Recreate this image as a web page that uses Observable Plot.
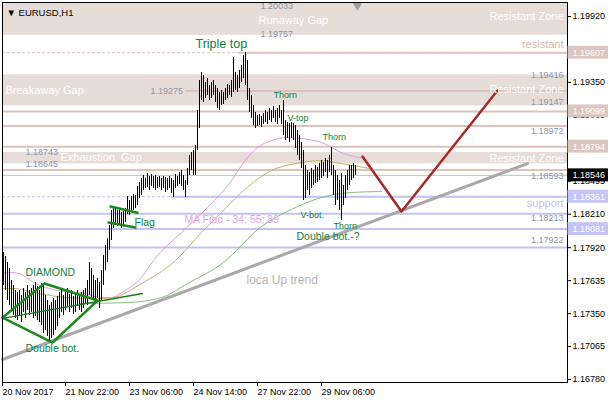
<!DOCTYPE html>
<html><head><meta charset="utf-8">
<script src="https://cdn.jsdelivr.net/npm/d3@7"></script>
<script src="https://cdn.jsdelivr.net/npm/@observablehq/plot@0.6"></script>
<style>body{margin:0;background:#fff;} #chart svg{display:block;overflow:visible}</style>
</head><body><div id="chart"></div>
<script>
// ---- OHLC bars (H1), high / low per bar ----
const barHigh = [1.17879,1.17844,1.17792,1.17740,1.17636,1.17593,1.17550,1.17533,1.17550,1.17507,
1.17567,1.17533,1.17593,1.17550,1.17567,1.17593,1.17619,1.17585,1.17550,1.17610,
1.17602,1.17507,1.17463,1.17420,1.17446,1.17481,1.17463,1.17498,1.17533,1.17550,
1.17507,1.17533,1.17567,1.17515,1.17550,1.17498,1.17524,1.17550,1.17507,1.17533,
1.17550,1.17567,1.17636,1.17792,1.17740,1.17680,1.17636,1.17654,1.17619,1.17723,
1.17853,1.17939,1.17998,1.18112,1.18242,1.18268,1.18259,1.18242,1.18242,1.18225,
1.18233,1.18259,1.18363,1.18328,1.18363,1.18381,1.18372,1.18450,1.18484,1.18519,
1.18545,1.18519,1.18562,1.18536,1.18553,1.18536,1.18545,1.18527,1.18536,1.18519,
1.18536,1.18527,1.18519,1.18536,1.18519,1.18501,1.18553,1.18536,1.18571,1.18588,
1.18545,1.18501,1.18605,1.18718,1.18744,1.18761,1.18804,1.19107,1.19366,1.19436,
1.19410,1.19349,1.19384,1.19323,1.19349,1.19366,1.19323,1.19297,1.19263,1.19280,
1.19263,1.19297,1.19332,1.19323,1.19366,1.19565,1.19436,1.19410,1.19453,1.19496,
1.19583,1.19609,1.19539,1.19297,1.19237,1.19150,1.19090,1.19064,1.19072,1.19055,
1.19081,1.19107,1.19090,1.19124,1.19107,1.19142,1.19107,1.19124,1.19150,1.19107,
1.19193,1.19020,1.19003,1.18995,1.19003,1.18995,1.18977,1.18934,1.18891,1.18830,
1.18761,1.18631,1.18588,1.18571,1.18605,1.18588,1.18631,1.18614,1.18648,1.18674,
1.18657,1.18692,1.18674,1.18718,1.18787,1.18631,1.18588,1.18545,1.18501,1.18562,
1.18458,1.18545,1.18588,1.18631,1.18631,1.18648,1.18631];
const barLow = [1.17593,1.17550,1.17463,1.17420,1.17360,1.17334,1.17308,1.17290,1.17325,1.17273,
1.17360,1.17308,1.17377,1.17334,1.17360,1.17308,1.17325,1.17290,1.17273,1.17247,
1.17178,1.17204,1.17152,1.17117,1.17135,1.17161,1.17204,1.17238,1.17308,1.17360,
1.17334,1.17377,1.17412,1.17360,1.17394,1.17342,1.17360,1.17412,1.17377,1.17360,
1.17394,1.17429,1.17420,1.17507,1.17481,1.17463,1.17446,1.17481,1.17394,1.17463,
1.17593,1.17723,1.17792,1.17896,1.17982,1.18086,1.18112,1.18103,1.18112,1.18086,
1.18103,1.18138,1.18207,1.18199,1.18225,1.18242,1.18259,1.18285,1.18346,1.18372,
1.18415,1.18432,1.18441,1.18415,1.18450,1.18432,1.18415,1.18432,1.18441,1.18415,
1.18432,1.18398,1.18415,1.18432,1.18389,1.18354,1.18432,1.18450,1.18467,1.18450,
1.18415,1.18354,1.18458,1.18545,1.18588,1.18545,1.18545,1.18761,1.18951,1.19193,
1.19176,1.19211,1.19237,1.19193,1.19211,1.19237,1.19176,1.19124,1.19107,1.19150,
1.19159,1.19193,1.19211,1.19237,1.19219,1.19263,1.19280,1.19263,1.19297,1.19349,
1.19384,1.19323,1.19193,1.19090,1.19038,1.18977,1.18951,1.18969,1.18977,1.18960,
1.18986,1.19003,1.18986,1.19020,1.19003,1.19038,1.19003,1.18986,1.19038,1.18986,
1.18891,1.18847,1.18865,1.18830,1.18865,1.18847,1.18778,1.18718,1.18674,1.18605,
1.18328,1.18346,1.18415,1.18372,1.18432,1.18458,1.18475,1.18484,1.18501,1.18519,
1.18536,1.18571,1.18519,1.18571,1.18545,1.18372,1.18285,1.18328,1.18242,1.18155,
1.18285,1.18346,1.18415,1.18458,1.18501,1.18519,1.18545];

// ---- Moving averages "MA Fibo - 34; 55; 89" (bar index, price) ----
const maPlumBar = [0,4,9,15,27,40,49,54,59,69,75,89,102,114,119,127,134,141,149,159,170,180];
const maPlumVal = [1.17697,1.17706,1.17688,1.17619,1.17550,1.17524,1.17489,1.17489,1.17533,1.17662,1.17809,1.18052,1.18268,1.18501,1.18631,1.18787,1.18847,1.18873,1.18865,1.18830,1.18735,1.18692];
const maOliveBar = [0,5,15,32,49,55,69,86,99,109,119,132,149,159,169,183];
const maOliveVal = [1.17567,1.17567,1.17533,1.17489,1.17481,1.17489,1.17610,1.17809,1.18052,1.18225,1.18398,1.18571,1.18657,1.18674,1.18648,1.18605];
const maGreenBar = [38,62,79,92,110,129,144,159,174,189];
const maGreenVal = [1.17437,1.17446,1.17489,1.17610,1.17792,1.18104,1.18251,1.18354,1.18398,1.18406];

// ---- horizontal levels ----
const zoneHigh = [1.20033, 1.19416, 1.18743];
const zoneLow  = [1.19757, 1.19147, 1.18645];
const zoneNames = ["Runaway Gap", "Breakaway Gap", "Exhaustion  Gap"];
const pinkLevels = [1.19607, 1.19275, 1.19099, 1.18972, 1.18794, 1.18593];
const pinkLevelFrom = [118, 91, -0.5, -0.5, -0.5, -0.5];
const blueLevels = [1.18361, 1.18213, 1.18081, 1.17922];
const blueLevelFrom = [84, -0.5, -0.5, -0.5];
const dashedPink = [1.19607];
const dashedBlue = [1.18361];
const bidPrice = 1.18546;

// ---- drawn objects ----
const trendBar = [-0.5, 262], trendVal = [1.16953, 1.18648];
const projBar = [179.5, 199, 247], projVal = [1.18709, 1.18233, 1.19280];
const diamondBar = [-0.5, 20.5, 47, 24.5, -0.5];
const diamondVal = [1.17316, 1.17610, 1.17463, 1.17100, 1.17316];
const diamondMidBar = [-0.5, 69.5], diamondMidVal = [1.17308, 1.17524];
const flagTopBar = [53.5, 67], flagTopVal = [1.18277, 1.18223];
const flagLowBar = [52.5, 66], flagLowVal = [1.18138, 1.18095];

// ---- axes ----
const yTicks = [1.19920,1.19635,1.19350,1.19065,1.18780,1.18495,1.18210,1.17920,1.17635,1.17350,1.17065,1.16780];
const xTickBars = [-0.5, 31, 63, 95, 127, 159];
const xTickLabels = ["20 Nov 2017","21 Nov 22:00","23 Nov 06:00","24 Nov 14:00","27 Nov 22:00","29 Nov 06:00"];
const pinkBoxes = [1.19607, 1.19099, 1.18794];
const blueBoxes = [1.18361, 1.18081];

// ---- annotations ----
const patternText = ["Triple top","Thorn","V-top","Thorn","V-bot.","Thorn","Double bot.-?","DIAMOND","Double bot.","Flag"];
const patternBar  = [96, 135, 142, 159.5, 148.5, 165, 146.5, 11, 11, 65.5];
const patternAt   = [1.19678, 1.19237, 1.19038, 1.18873, 1.18199, 1.18103, 1.18017, 1.17706, 1.17048, 1.18138];
const leftPriceText = ["1.20033","1.19757","1.19275","1.18743","1.18645"];
const leftPriceBar  = [128.5, 128.5, 73.5, 11, 11];
const leftPriceAt   = [1.20007, 1.19764, 1.19271, 1.18751, 1.18640];
const rightPriceText = ["1.19416","1.19147","1.18972","1.18593","1.18213","1.17922"];
const rightPriceAt   = [1.19410, 1.19176, 1.18925, 1.18536, 1.18173, 1.17990];
const zoneNameBar = [127.5, 1, 28.5];
const zoneNameAt  = [1.19885, 1.19280, 1.18699];
const resistZoneAt = [1.19920, 1.19289, 1.18692];

// ---- layout ----
const xLo = -0.5, xHi = 282;
const yLo = 1.167541, yHi = 1.200411;
const FONT = "'Liberation Sans', Arial, sans-serif";
const ZONE = "#e6dcd8", PINK = "#dcc2ba", LAV = "#c2c2f4", GREEN = "#0f7f3c";

const bars = barHigh.map((h, i) => ({i, h, l: barLow[i]}));
const pts = (b, v) => b.map((x, k) => ({x, y: v[k]}));
const zones = zoneHigh.map((h, k) => ({h, l: zoneLow[k]}));
const bh = 0.00056;

const chart = Plot.plot({
  width: 610, height: 400,
  marginLeft: 2, marginRight: 43, marginTop: 2, marginBottom: 18,
  x: {domain: [xLo, xHi], axis: null},
  y: {domain: [yLo, yHi], axis: null},
  style: {fontFamily: FONT, fontSize: "9px", background: "#fff", overflow: "visible"},
  marks: [
    Plot.rect(zones, {x1: xLo, x2: xHi, y1: "l", y2: "h", fill: ZONE}),
    Plot.ruleY(dashedPink, {x1: xLo, x2: xHi, stroke: PINK, strokeWidth: 1, strokeDasharray: "3,2"}),
    Plot.ruleY(dashedBlue, {x1: xLo, x2: xHi, stroke: LAV, strokeWidth: 1, strokeDasharray: "3,2"}),
    Plot.ruleY(pinkLevels, {y: d => d, x1: (d, i) => pinkLevelFrom[i], x2: xHi, stroke: PINK, strokeWidth: 2}),
    Plot.ruleY(blueLevels, {y: d => d, x1: (d, i) => blueLevelFrom[i], x2: xHi, stroke: LAV, strokeWidth: 2}),
    Plot.ruleY([bidPrice], {x1: xLo, x2: xHi, stroke: "#c0c0c0", strokeWidth: 1}),
    Plot.line(pts(maPlumBar, maPlumVal), {x: "x", y: "y", stroke: "#dda0dd", strokeWidth: 1, curve: "monotone-x"}),
    Plot.line(pts(maOliveBar, maOliveVal), {x: "x", y: "y", stroke: "#c4b266", strokeWidth: 1, curve: "monotone-x"}),
    Plot.line(pts(maGreenBar, maGreenVal), {x: "x", y: "y", stroke: "#86c078", strokeWidth: 1, curve: "monotone-x"}),
    Plot.ruleX(bars, {x: "i", y1: "l", y2: "h", stroke: "#000", strokeWidth: 1}),
    Plot.line(pts(trendBar, trendVal), {x: "x", y: "y", stroke: "#a9a9a9", strokeWidth: 3}),
    Plot.line(pts(diamondBar, diamondVal), {x: "x", y: "y", stroke: "#1b8a1b", strokeWidth: 2.5}),
    Plot.line(pts(diamondMidBar, diamondMidVal), {x: "x", y: "y", stroke: "#1b7a1b", strokeWidth: 1.3}),
    Plot.line(pts(flagTopBar, flagTopVal), {x: "x", y: "y", stroke: "#1b8a1b", strokeWidth: 2.5}),
    Plot.line(pts(flagLowBar, flagLowVal), {x: "x", y: "y", stroke: "#1b8a1b", strokeWidth: 2.5}),
    Plot.line(pts(projBar, projVal), {x: "x", y: "y", stroke: "#a52a2a", strokeWidth: 2.5}),
    // zone texts
    Plot.text(zoneNames, {x: (d, i) => zoneNameBar[i], y: (d, i) => zoneNameAt[i], text: d => d, textAnchor: "start", fill: "#fff", fontSize: 11}),
    Plot.text(resistZoneAt, {x: xHi, y: d => d, text: () => "Resistant Zone", textAnchor: "end", dx: -4, fill: "#fff", fontSize: 11}),
    Plot.text(["resistant"], {x: xHi, y: 1.19678, textAnchor: "end", dx: -4, fill: "#d9b8ae", fontSize: 11}),
    Plot.text(["support"], {x: xHi, y: 1.18302, textAnchor: "end", dx: -4, fill: "#c2c2f4", fontSize: 11}),
    Plot.text(leftPriceText, {x: (d, i) => leftPriceBar[i], y: (d, i) => leftPriceAt[i], text: d => d, textAnchor: "start", fill: "#8c97a8", fontSize: 9}),
    Plot.text(rightPriceText, {x: xHi, y: (d, i) => rightPriceAt[i], text: d => d, textAnchor: "end", dx: -4, fill: "#8c97a8", fontSize: 9}),
    Plot.text(patternText.slice(0, 1), {x: patternBar[0], y: patternAt[0], text: d => d, textAnchor: "start", fill: GREEN, fontSize: 12.5}),
    Plot.text(patternText.slice(1, 6), {x: (d, i) => patternBar[i + 1], y: (d, i) => patternAt[i + 1], text: d => d, textAnchor: "start", fill: GREEN, fontSize: 9}),
    Plot.text(patternText.slice(6), {x: (d, i) => patternBar[i + 6], y: (d, i) => patternAt[i + 6], text: d => d, textAnchor: "start", fill: GREEN, fontSize: 10.5}),
    Plot.text(["MA Fibo - 34; 55; 89"], {x: 90.5, y: 1.18164, textAnchor: "start", fill: "#e3a6e3", fontSize: 10.5}),
    Plot.text(["loca Up trend"], {x: 121.5, y: 1.17636, textAnchor: "start", fill: "#b4b4b4", fontSize: 12}),
    Plot.text(["\u25BC EURUSD,H1"], {frameAnchor: "top-left", dx: 4, dy: 7, textAnchor: "start", fill: "#000", fontSize: 9.5}),
    Plot.dot([barHigh.length], {x: d => d, frameAnchor: "top", symbol: "triangle", r: 3.5, rotate: 180, fill: "#a0a0a0", dy: 3}),
    Plot.frame({stroke: "#000"}),
    Plot.axisY(yTicks, {anchor: "right", tickSize: 3, tickPadding: 2, tickFormat: d => d.toFixed(5), fontSize: 9, fill: "#000"}),
    Plot.axisX(xTickBars, {anchor: "bottom", tickSize: 4, tickPadding: 2, tickFormat: d => xTickLabels[xTickBars.indexOf(d)], textAnchor: "start", dx: 0, fontSize: 9, fill: "#000"}),
    Plot.rect(pinkBoxes, {x1: xHi + 0.25, x2: xHi + 20.5, y1: d => d - bh, y2: d => d + bh, fill: "#dcc6c0"}),
    Plot.rect(blueBoxes, {x1: xHi + 0.25, x2: xHi + 20.5, y1: d => d - bh, y2: d => d + bh, fill: "#c4c4f6"}),
    Plot.rect([bidPrice], {x1: xHi + 0.25, x2: xHi + 20.5, y1: d => d - bh, y2: d => d + bh, fill: "#000"}),
    Plot.text(pinkBoxes.concat(blueBoxes, [bidPrice]), {x: xHi, y: d => d, text: d => d.toFixed(5), dx: 5, textAnchor: "start", fill: "#fff", fontSize: 9})
  ]
});
document.getElementById("chart").appendChild(chart);
</script></body></html>
